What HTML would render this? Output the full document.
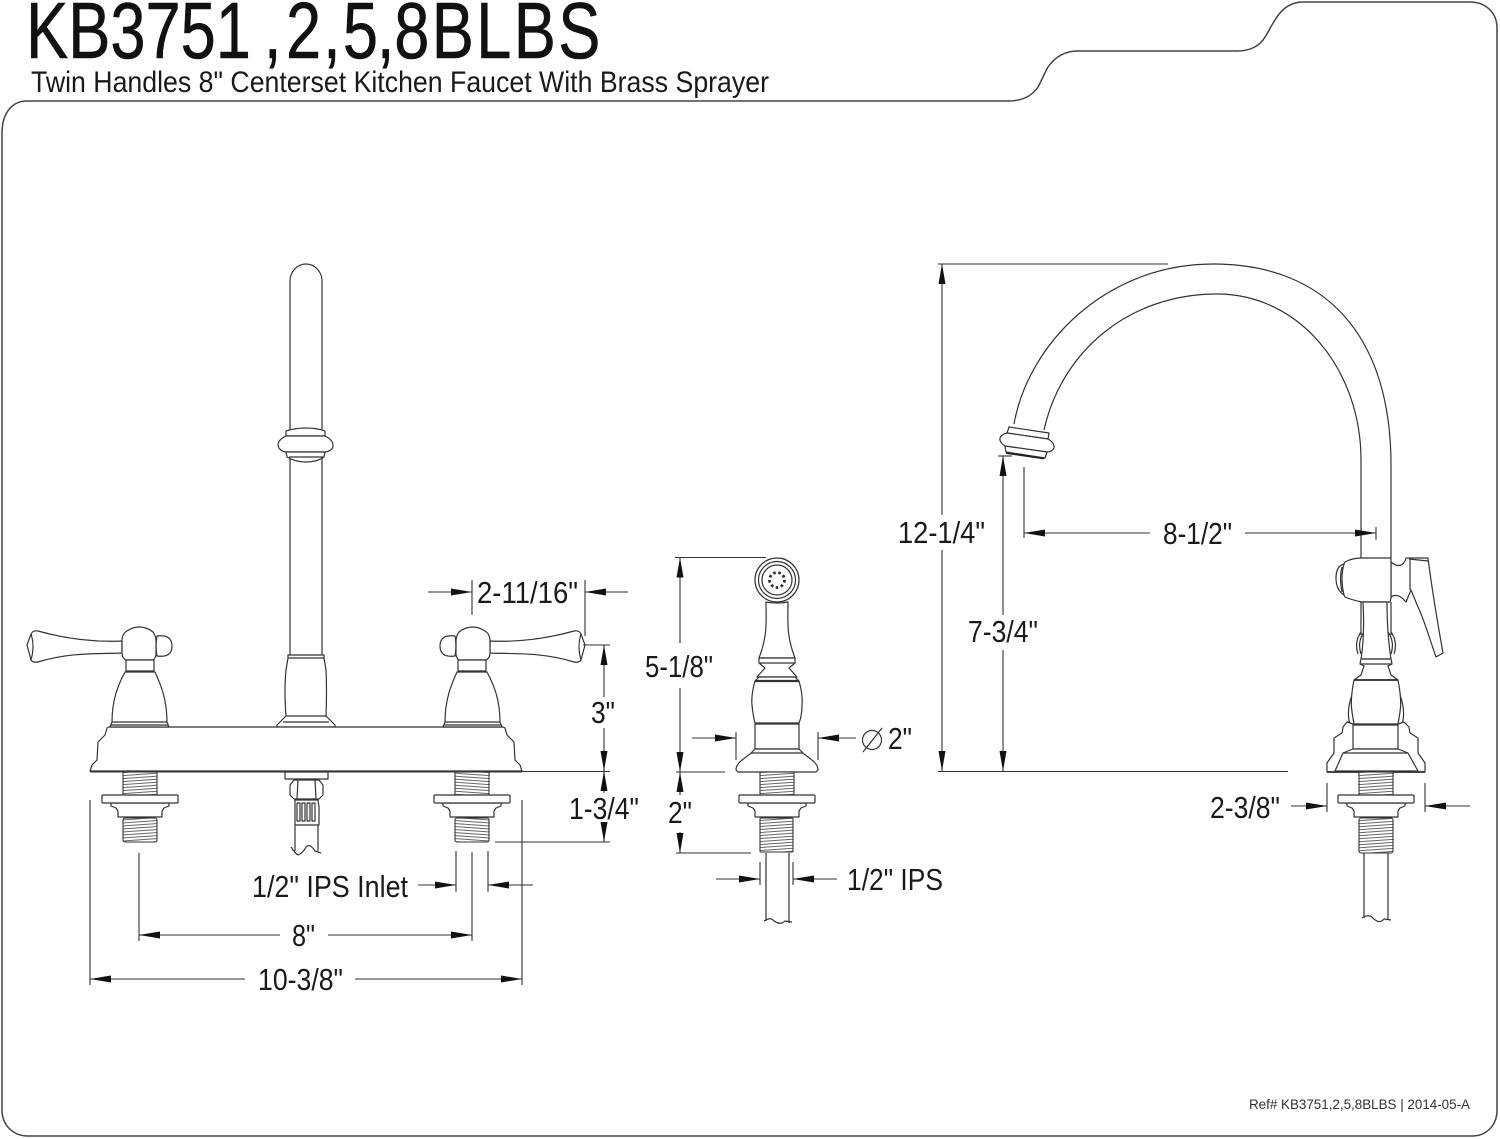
<!DOCTYPE html>
<html><head><meta charset="utf-8"><style>
html,body{margin:0;padding:0;background:#fff}
svg{display:block}
text{font-family:"Liberation Sans",sans-serif;fill:#1a1a1a;stroke:none}
.d text{font-size:31px}
.k{fill:#fff;stroke:#333;stroke-width:1.2;stroke-linejoin:round}
.n{fill:none;stroke:#333;stroke-width:1.2;stroke-linejoin:round}
.t{fill:url(#th);stroke:#333;stroke-width:1.1}
.dm{fill:none;stroke:#333;stroke-width:1.1}
.f{fill:none;stroke:#444;stroke-width:1.5}
</style></head><body>
<svg width="1500" height="1139" viewBox="0 0 1500 1139" xmlns="http://www.w3.org/2000/svg">
<defs>
<pattern id="th" width="3" height="3" patternUnits="userSpaceOnUse" patternTransform="rotate(-4)"><rect width="3" height="3" fill="#fff"/><path d="M0 1.500L3 1.500" stroke="#555" stroke-width=".9"/></pattern>
<marker id="a" markerUnits="userSpaceOnUse" markerWidth="22" markerHeight="8" refX="21" refY="4" orient="auto-start-reverse"><path d="M0 .5L21 4L0 7.5Z" fill="#111"/></marker>
<marker id="v" markerUnits="userSpaceOnUse" markerWidth="21" markerHeight="8" refX="20" refY="4" orient="auto-start-reverse"><path d="M0 .5L20 4L0 7.5Z" fill="#111"/></marker>
<g id="hw">
<rect class="t" x="-17" y="772" width="34" height="23"/>
<path class="k" d="M-29 803L-29 806L-24 808L-22 811L-22 817L22 817L22 811L24 808L29 806L29 803Z"/>
<rect class="k" x="-38" y="795" width="76" height="8" rx="1"/>
</g>
<g id="handle">
<path class="k" d="M122 641C100 642 70 640 38 631Q33 630 31 634L27 645L31 660Q33 663 38 662C70 652 100 654 122 653Z"/>
<path class="n" d="M31 634Q35 646 31 660"/>
<path class="k" d="M157 636Q172 634 172 646Q172 658 157 656Q155 646 157 636Z"/>
<path class="k" d="M122 641Q122 634 127 631Q133 627 139 627Q147 627 153 632Q156 636 156 641L156 655Q155 659 153 660L126 660Q122 658 122 653Z"/>
<rect class="k" x="126" y="660" width="28" height="11"/>
<path class="k" d="M125 672L155 672C161 685 167 700 167 722L169 727L110 727L112 722C112 700 118 685 125 672Z"/>
<path class="n" d="M112 722L167 722M111 725L168 725"/>
<rect class="t" x="123" y="818" width="34" height="24" rx="2"/>
<use href="#hw" x="140"/>
</g>
</defs>
<rect width="1500" height="1139" fill="#fff"/>

<!-- frame -->
<path class="f" d="M2 133C2 113 12 101 27 101L1008 101C1022 101 1032 96 1038 87C1042 80 1044 74 1048 67C1055 57 1065 51 1078 51L1237 51C1250 51 1260 46 1265 37C1269 31 1271 26 1275 20C1282 8 1291 2 1303 2L1470 2C1486 2 1497 13 1497 28L1497 1110C1497 1126 1486 1136 1472 1136L28 1136C13 1136 2 1125 2 1110Z"/>

<!-- title -->
<g transform="scale(.79,1)"><text y="58" font-size="80" style="fill:#111;stroke:#111;stroke-width:.6"><tspan x="33">KB3751</tspan><tspan x="334">,</tspan><tspan x="362">2</tspan><tspan x="409">,</tspan><tspan x="434">5</tspan><tspan x="477">,</tspan><tspan x="499" letter-spacing="3">8BLBS</tspan></text></g>
<text x="31" y="92" font-size="30" textLength="738" lengthAdjust="spacingAndGlyphs">Twin Handles 8" Centerset Kitchen Faucet With Brass Sprayer</text>

<!-- FRONT VIEW -->
<path class="k" d="M290 656L290 281C290 272 297 264 306 264C315 264 322 272 322 281L322 656Z"/>
<path class="k" d="M286 436L286 431Q295 428 306 428Q317 428 325 431L325 436Z"/>
<path class="k" d="M286 436Q278 440 278 445Q279 451 286 452L325 452Q333 451 333 445Q333 440 325 436Z"/>
<path class="k" d="M286 452L287 457Q295 462 306 462Q317 462 324 457L325 452Z"/>
<path class="n" d="M289 457L323 457"/>
<path class="k" d="M288 655L324 655L324 658L326 670Q327 690 326 716L335 725L335 727L277 727L277 725L286 716Q284 690 286 670L288 658Z"/>
<path class="n" d="M288 658L324 658M286 716L326 716M283 722L329 722"/>
<path class="k" d="M90 771L92 765L97 760L98 742L105 735L107 728L109 727L503 727L505 728L507 735L514 742L515 760L520 765L522 771Z"/>
<path d="M90 771.5L522 771.5" stroke="#333" stroke-width="2"/>
<use href="#handle"/>
<use href="#handle" transform="translate(612,0) scale(-1,1)"/>
<path class="k" d="M285 772L328 772L328 779L285 779Z"/>
<path class="k" d="M294 780L319 780L323 785L323 795L319 799L294 799L290 795L290 785Z"/>
<path class="n" d="M298 780L297 799M315 780L316 799"/>
<path class="k" d="M295 800L318 800L319 807L319 825L295 825L295 807Z"/>
<path class="n" d="M297 803h3v18h-3zM302 803h3v18h-3zM307 803h3v18h-3zM312 803h3v18h-3z"/>
<path class="n" d="M295 825L295 851M318 825L318 851M291 847Q295 853 298 855Q303 853 306 847Q310 843 315 851L321 853"/>

<!-- SPRAYER -->
<g>
<circle class="k" cx="777" cy="580" r="22"/>
<circle class="n" cx="777" cy="580" r="18.5"/>
<circle class="n" cx="777" cy="580" r="15"/>
<circle cx="777" cy="580" r="7.500" fill="none" stroke="#333" stroke-width="2.800" stroke-dasharray="2.600 2.600"/>
<path class="k" d="M766 602C766 620 768 635 759 658L795 658C786 635 788 620 788 602Q777 604 766 602Z"/>
<path class="k" d="M759 658L795 658L795 663L789 668L797 677L757 677L765 668L759 663Z"/>
<path class="n" d="M760 663L794 663"/>
<path class="k" d="M755 681Q751 695 752 705Q753 716 755 723L799 723Q802 716 802 705Q803 695 799 681L795 677L759 677Z"/>
<path d="M755 681L799 681" stroke="#333" stroke-width="2.2"/>
<path d="M755 724L799 724" stroke="#333" stroke-width="1.6"/>
<rect class="k" x="755" y="724" width="44" height="25"/>
<path class="k" d="M755 749L799 749L803 753C808 758 818 762 818 770L816 772L738 772L736 770C736 762 746 758 751 753Z"/>
<path class="n" d="M751 753L803 753"/>
<use href="#hw" x="777"/>
<rect class="t" x="760" y="818" width="33" height="34" rx="1"/>
<path class="n" d="M766 853L766 921M789 853L789 923M764 921Q770 917 773 920Q780 926 785 921L792 922"/>
</g>

<!-- SIDE VIEW -->
<path class="n" d="M1014 424C1028 345 1105 264 1213 264C1325 264 1391 335 1391 465L1391 558"/>
<path class="n" d="M1044 430C1062 350 1130 294 1217 294C1300 294 1361 370 1361 460L1361 558"/>
<path class="k" d="M1009 427L1049 433L1048 439L1007 433Z"/>
<path class="k" d="M1007 433L1048 439Q1055 443 1054 448Q1052 452 1047 452L1005 446Q999 442 1000 438Q1002 434 1007 433Z"/>
<path class="k" d="M1005 446L1047 452L1045 458L1006 452Z"/>
<path d="M1006 453L1044 458.500" stroke="#222" stroke-width="1.800"/>
<path class="n" d="M1361 602L1361 635M1391 602L1391 635M1361 632Q1354 642 1358 654M1391 632Q1398 642 1394 654M1364 632Q1357 642 1361 654M1388 632Q1395 642 1391 654M1352 695Q1346 712 1350 724M1400 695Q1406 712 1402 724"/>
<path class="k" d="M1406 558L1428 558C1432 590 1438 625 1443 653L1436 657C1430 640 1425 622 1418 607L1411 590L1406 602C1404 600 1398 592 1391 597L1391 562C1398 568 1404 566 1406 558Z"/>
<path class="n" d="M1410 558L1410 590M1409 559L1428 561"/>
<path class="k" d="M1362 558L1391 558L1391 598L1390 602L1362 602Q1352 600 1345 597L1344 595Q1336 590 1336 578Q1336 566 1344 564L1345 562Q1352 558 1362 558Z"/>
<path class="n" d="M1344 564Q1340 578 1344 595M1342 567Q1339 578 1342 592"/>
<path class="k" d="M1363 602L1387 602C1387 620 1388 640 1391 659L1361 659C1364 640 1364 620 1363 602Z"/>
<path class="k" d="M1361 659L1391 659L1392 664L1388 666L1391 675L1398 680L1354 680L1361 675L1364 666L1360 664Z"/>
<path class="n" d="M1360 664L1392 664"/>
<path class="k" d="M1333 772L1327 772L1327 763L1334 753L1334 738L1342 733L1343 727L1347 722L1353 724L1398 724L1404 722L1409 727L1410 733L1418 738L1418 753L1425 763L1425 772Z"/>
<path class="k" d="M1354 680L1398 680Q1402 700 1400 712L1398 724L1354 724L1352 712Q1350 700 1354 680Z"/>
<path d="M1354 680L1398 680M1353 725L1398 725" stroke="#333" stroke-width="1.800"/>
<rect class="k" x="1353" y="725" width="45" height="24"/>
<path class="k" d="M1353 749L1398 749L1408 753L1418 771L1335 771L1343 753Z"/>
<path class="n" d="M1343 753L1408 753"/>
<path d="M1327 772L1425 772" stroke="#333" stroke-width="1.800"/>
<use href="#hw" x="1376"/>
<rect class="t" x="1359" y="818" width="34" height="35" rx="2"/>
<path class="n" d="M1364 853L1364 918M1388 853L1388 920M1362 918Q1368 914 1372 917Q1379 925 1384 919L1391 920"/>

<!-- DIMENSIONS -->
<g class="dm">
<path d="M428 592L472 592" marker-end="url(#a)"/>
<path d="M472 580L472 615M585 580L585 636"/>
<path d="M628 592L585 592" marker-end="url(#a)"/>
<path d="M583 645L610 645"/>
<path d="M604 697L604 645" marker-end="url(#v)"/>
<path d="M604 728L604 771" marker-end="url(#v)"/>
<path d="M497 771.500L610 771.500"/>
<path d="M604 793L604 771" marker-end="url(#v)"/>
<path d="M604 825L604 842" marker-end="url(#v)"/>
<path d="M495 842L610 842"/>
<path d="M139 853L139 941M472 852L472 941M456 851L456 892M488 851L488 892"/>
<path d="M90 800L90 985M522 800L522 985"/>
<path d="M418 885L456 885" marker-end="url(#a)"/>
<path d="M533 885L488 885" marker-end="url(#a)"/>
<path d="M280 935L139 935" marker-end="url(#a)"/>
<path d="M328 935L472 935" marker-end="url(#a)"/>
<path d="M245 979L90 979" marker-end="url(#a)"/>
<path d="M355 979L522 979" marker-end="url(#a)"/>
<path d="M675 557.500L766 557.500"/>
<path d="M680 643L680 557.500" marker-end="url(#v)"/>
<path d="M680 688L680 772" marker-end="url(#v)"/>
<path d="M676 772L725 772M676 853L751 853"/>
<path d="M680 795L680 772" marker-end="url(#v)"/>
<path d="M680 832L680 853" marker-end="url(#v)"/>
<path d="M692 738L736 738" marker-end="url(#a)"/>
<path d="M856 738L818 738" marker-end="url(#a)"/>
<path d="M736 732L736 760M818 732L818 760"/>
<circle cx="872" cy="740" r="9.500" stroke-width="1.200"/>
<path d="M863 752L882 728" stroke-width="1.200"/>
<path d="M716 879L760 879" marker-end="url(#a)"/>
<path d="M837 879L793 879" marker-end="url(#a)"/>
<path d="M760 862L760 885M793 862L793 885"/>
<path d="M938 264L1168 264M938 771.500L1288 771.500"/>
<path d="M942 515L942 264" marker-end="url(#v)"/>
<path d="M942 550L942 771" marker-end="url(#v)"/>
<path d="M998 456L1012 456"/>
<path d="M1003 615L1003 456" marker-end="url(#v)"/>
<path d="M1003 650L1003 771" marker-end="url(#v)"/>
<path d="M1024 467L1024 538M1376 527L1376 540"/>
<path d="M1150 533L1024 533" marker-end="url(#a)"/>
<path d="M1245 533L1376 533" marker-end="url(#a)"/>
<path d="M1291 806L1327 806" marker-end="url(#a)"/>
<path d="M1470 806L1425 806" marker-end="url(#a)"/>
<path d="M1327 783L1327 812M1425 783L1425 812"/>
</g>

<!-- labels -->
<g class="d">
<text x="477" y="603" textLength="101" lengthAdjust="spacingAndGlyphs">2-11/16"</text>
<text x="591" y="723" textLength="24" lengthAdjust="spacingAndGlyphs">3"</text>
<text x="569" y="819" textLength="70" lengthAdjust="spacingAndGlyphs">1-3/4"</text>
<text x="252" y="897" textLength="156" lengthAdjust="spacingAndGlyphs">1/2" IPS Inlet</text>
<text x="292" y="946" textLength="23" lengthAdjust="spacingAndGlyphs">8"</text>
<text x="258" y="990" textLength="85" lengthAdjust="spacingAndGlyphs">10-3/8"</text>
<text x="645" y="677" textLength="68" lengthAdjust="spacingAndGlyphs">5-1/8"</text>
<text x="888" y="749" textLength="24" lengthAdjust="spacingAndGlyphs">2"</text>
<text x="668" y="823" textLength="24" lengthAdjust="spacingAndGlyphs">2"</text>
<text x="847" y="890" textLength="96" lengthAdjust="spacingAndGlyphs">1/2" IPS</text>
<text x="898" y="543" textLength="87" lengthAdjust="spacingAndGlyphs">12-1/4"</text>
<text x="968" y="642" textLength="70" lengthAdjust="spacingAndGlyphs">7-3/4"</text>
<text x="1163" y="544" textLength="69" lengthAdjust="spacingAndGlyphs">8-1/2"</text>
<text x="1210" y="818" textLength="70" lengthAdjust="spacingAndGlyphs">2-3/8"</text>
</g>
<text x="1249" y="1109" font-size="13.500" textLength="221" lengthAdjust="spacingAndGlyphs" style="fill:#333">Ref# KB3751,2,5,8BLBS | 2014-05-A</text>
</svg>
</body></html>
